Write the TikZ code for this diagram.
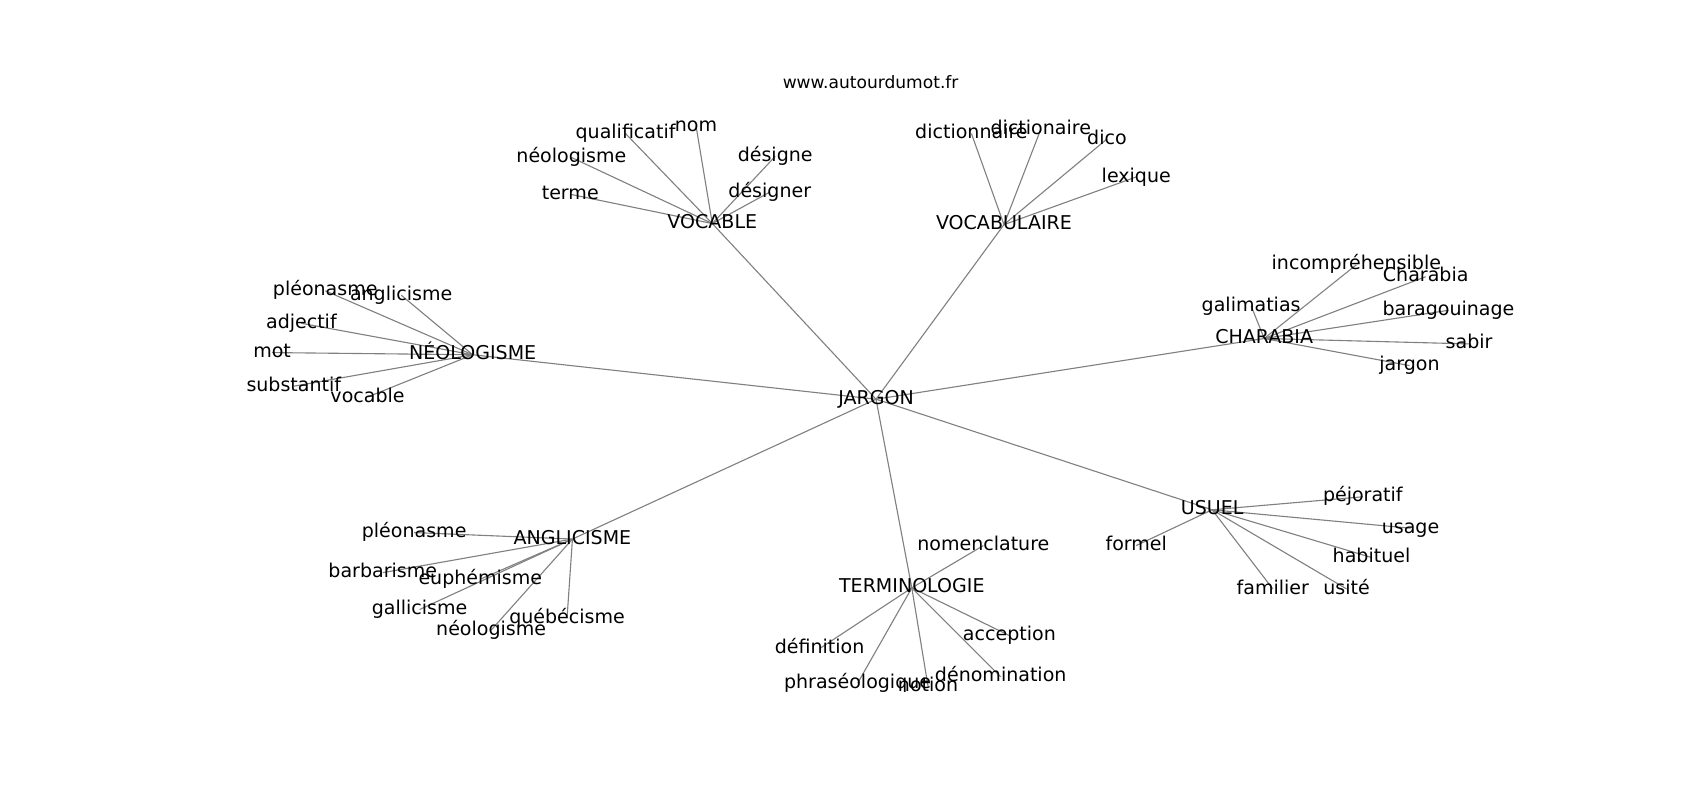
\documentclass[tikz,border=0pt]{standalone}
\usepackage{fontspec}
\setmainfont{DejaVu Sans}
\pgfdeclarelayer{bg}
\pgfsetlayers{bg,main}
\definecolor{edgegray}{RGB}{128,128,128}
\tikzset{
  lbl/.style={inner sep=0pt, outer sep=0pt, anchor=center, font=\fontsize{13.7}{15}\selectfont, text height=0.73em, text depth=0em},
  ttl/.style={inner sep=0pt, anchor=center, font=\fontsize{12.3}{14}\selectfont, text height=0.73em, text depth=0em},
  edge/.style={draw=edgegray, line width=0.8pt}
}
\begin{document}
\begin{tikzpicture}[x=0.7806pt, y=-0.7806pt]
\useasboundingbox (0,-1.2) rectangle (1568,736.8);
\node[ttl] (title) at (803,76) {www.autourdumot.fr};
% hubs
\node[lbl] (jargon) at (808,367) {JARGON};
\node[lbl] (vocable) at (657,205) {VOCABLE};
\node[lbl] (vocabulaire) at (926,206) {VOCABULAIRE};
\node[lbl] (neologisme) at (436,326) {NÉOLOGISME};
\node[lbl] (charabia) at (1166,311) {CHARABIA};
\node[lbl] (anglicisme) at (528,496) {ANGLICISME};
\node[lbl] (usuel) at (1118,469) {USUEL};
\node[lbl] (terminologie) at (841,541) {TERMINOLOGIE};
% VOCABLE leaves
\node[lbl] (v1) at (577,122) {qualificatif};
\node[lbl] (v2) at (642,115) {nom};
\node[lbl] (v3) at (527,144) {néologisme};
\node[lbl] (v4) at (715,143) {désigne};
\node[lbl] (v5) at (710,176) {désigner};
\node[lbl] (v6) at (526,178) {terme};
% VOCABULAIRE leaves
\node[lbl] (w1) at (896,122) {dictionnaire};
\node[lbl] (w2) at (960,118) {dictionaire};
\node[lbl] (w3) at (1021,127) {dico};
\node[lbl] (w4) at (1048,162) {lexique};
% NEOLOGISME leaves
\node[lbl] (n1) at (300,267) {pléonasme};
\node[lbl] (n2) at (370,271) {anglicisme};
\node[lbl] (n3) at (278,297) {adjectif};
\node[lbl] (n4) at (251,324) {mot};
\node[lbl] (n5) at (271,355) {substantif};
\node[lbl] (n6) at (339,365) {vocable};
% CHARABIA leaves
\node[lbl] (c1) at (1251,243) {incompréhensible};
\node[lbl] (c2) at (1315,254) {Charabia};
\node[lbl] (c3) at (1154,281) {galimatias};
\node[lbl] (c4) at (1336,285) {baragouinage};
\node[lbl] (c5) at (1355,316) {sabir};
\node[lbl] (c6) at (1300,336) {jargon};
% ANGLICISME leaves
\node[lbl] (a1) at (382,490) {pléonasme};
\node[lbl] (a2) at (353,527) {barbarisme};
\node[lbl] (a3) at (443,533) {euphémisme};
\node[lbl] (a4) at (387,561) {gallicisme};
\node[lbl] (a5) at (523,569) {québécisme};
\node[lbl] (a6) at (453,580) {néologisme};
% USUEL leaves
\node[lbl] (u1) at (1257,457) {péjoratif};
\node[lbl] (u2) at (1301,486) {usage};
\node[lbl] (u3) at (1048,502) {formel};
\node[lbl] (u4) at (1265,513) {habituel};
\node[lbl] (u5) at (1174,542) {familier};
\node[lbl] (u6) at (1242,542) {usité};
% TERMINOLOGIE leaves
\node[lbl] (t1) at (907,502) {nomenclature};
\node[lbl] (t2) at (931,585) {acception};
\node[lbl] (t3) at (756,597) {définition};
\node[lbl] (t4) at (923,623) {dénomination};
\node[lbl] (t5) at (791,629) {phraséologique};
\node[lbl] (t6) at (856,632) {notion};
\begin{pgfonlayer}{bg}
\foreach \h in {vocable,vocabulaire,neologisme,charabia,anglicisme,usuel,terminologie}
  \path[edge] (jargon.center) -- (\h.center);
\foreach \l in {v1,v2,v3,v4,v5,v6} \path[edge] (vocable.center) -- (\l.center);
\foreach \l in {w1,w2,w3,w4} \path[edge] (vocabulaire.center) -- (\l.center);
\foreach \l in {n1,n2,n3,n4,n5,n6} \path[edge] (neologisme.center) -- (\l.center);
\foreach \l in {c1,c2,c3,c4,c5,c6} \path[edge] (charabia.center) -- (\l.center);
\foreach \l in {a1,a2,a3,a4,a5,a6} \path[edge] (anglicisme.center) -- (\l.center);
\foreach \l in {u1,u2,u3,u4,u5,u6} \path[edge] (usuel.center) -- (\l.center);
\foreach \l in {t1,t2,t3,t4,t5,t6} \path[edge] (terminologie.center) -- (\l.center);
\end{pgfonlayer}
\end{tikzpicture}
\end{document}
